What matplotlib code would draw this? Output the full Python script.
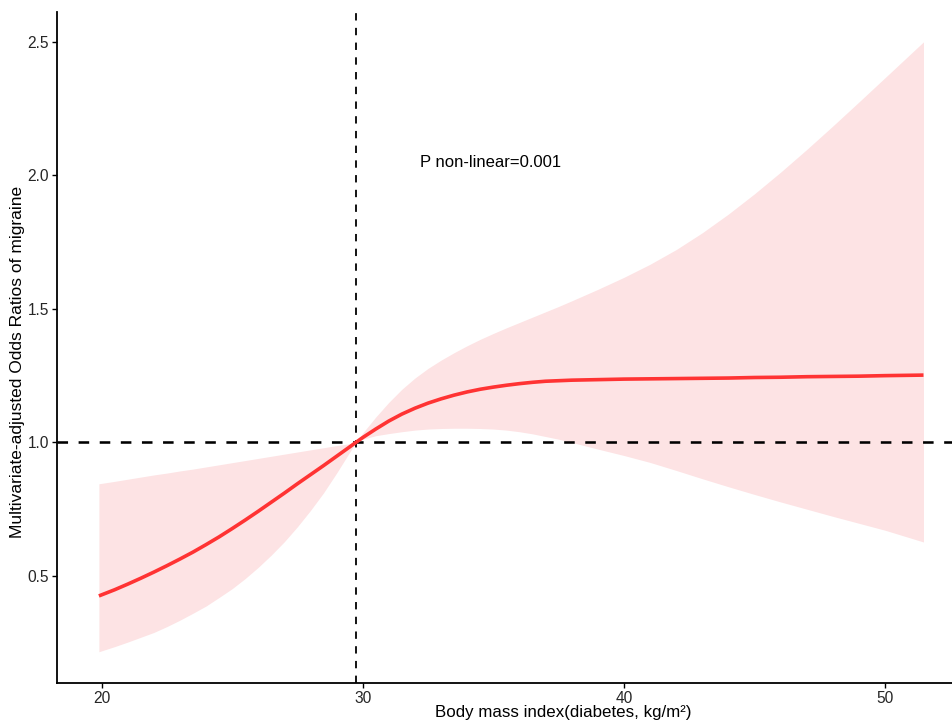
import matplotlib
matplotlib.use("Agg")
import matplotlib.pyplot as plt

plt.rcParams['font.family'] = ['Liberation Sans', 'DejaVu Sans']
plt.rcParams['lines.scale_dashes'] = False

# Data
bmi = [19.9, 20.5, 21, 21.5, 22, 22.5, 23, 23.5, 24, 24.5,
       25, 25.5, 26, 26.5, 27, 27.5, 28, 28.5, 29, 29.5,
       29.74, 30, 30.5, 31, 31.5, 32, 32.5, 33, 33.5, 34,
       34.5, 35, 35.5, 36, 36.5, 37, 37.5, 38, 39, 40,
       41, 42, 43, 44, 45, 46, 47, 48, 49, 50, 51.47]
or_fit = [0.425, 0.448, 0.469, 0.491, 0.514, 0.538, 0.563, 0.589, 0.617, 0.646,
          0.677, 0.709, 0.742, 0.776, 0.810, 0.845, 0.879, 0.913, 0.948, 0.983,
          1.000, 1.018, 1.050, 1.080, 1.106, 1.128, 1.147, 1.163, 1.177, 1.189,
          1.199, 1.207, 1.214, 1.220, 1.225, 1.229, 1.231, 1.233, 1.235, 1.237,
          1.238, 1.239, 1.240, 1.241, 1.243, 1.244, 1.246, 1.247, 1.248, 1.250, 1.252]
ci_low = [0.216, 0.235, 0.252, 0.270, 0.288, 0.310, 0.334, 0.360, 0.387, 0.419,
          0.452, 0.490, 0.532, 0.578, 0.628, 0.684, 0.745, 0.811, 0.885, 0.963,
          1.000, 1.012, 1.025, 1.033, 1.040, 1.046, 1.050, 1.052, 1.053, 1.053,
          1.052, 1.050, 1.046, 1.040, 1.032, 1.022, 1.012, 1.000, 0.975, 0.951,
          0.925, 0.895, 0.864, 0.834, 0.805, 0.777, 0.750, 0.723, 0.697, 0.671, 0.627]
ci_up = [0.845, 0.854, 0.862, 0.870, 0.878, 0.885, 0.893, 0.900, 0.908, 0.916,
         0.924, 0.932, 0.940, 0.948, 0.956, 0.964, 0.972, 0.980, 0.988, 0.995,
         1.000, 1.035, 1.095, 1.150, 1.199, 1.241, 1.277, 1.308, 1.336, 1.362,
         1.386, 1.408, 1.429, 1.449, 1.469, 1.489, 1.509, 1.530, 1.573, 1.618,
         1.667, 1.722, 1.785, 1.855, 1.931, 2.012, 2.097, 2.185, 2.275, 2.366, 2.500]
ref_bmi = 29.74
ref_or = 1.0
x_ticks = [20, 30, 40, 50]
y_ticks = [0.5, 1.0, 1.5, 2.0, 2.5]
annotation = "P non-linear=0.001"
xlabel = "Body mass index(diabetes, kg/m\u00b2)"
ylabel = "Multivariate-adjusted Odds Ratios of migraine"

W, H = 953, 724
L, B, T = 57, 682.7, 11.7
fig = plt.figure(figsize=(W / 100, H / 100), dpi=100)
ax = fig.add_axes([L / W, (H - B) / H, (W - L) / W, (B - T) / H])

ax.fill_between(bmi, ci_low, ci_up, color='#FDE3E4', linewidth=0, zorder=1)
ax.plot(bmi, or_fit, color='#FF3333', linewidth=2.6, solid_capstyle='butt',
        solid_joinstyle='round', zorder=3)

ax.axhline(ref_or, color='black', linewidth=1.85, dashes=(7.6, 7.6), zorder=2)
ax.axvline(ref_bmi, color='black', linewidth=1.3, dashes=(5.3, 5.3), zorder=2)

ax.text(34.9, 2.05, annotation, fontsize=12, ha='center', va='center', color='black')

ax.set_xlim(18.296, 52.60)
ax.set_ylim(0.100, 2.613)
ax.set_xticks(x_ticks)
ax.set_xticklabels([str(t) for t in x_ticks])
ax.set_yticks(y_ticks)
ax.set_yticklabels([f"{t:.1f}" for t in y_ticks])

for s in ['top', 'right']:
    ax.spines[s].set_visible(False)
for s in ['left', 'bottom']:
    ax.spines[s].set_linewidth(1.3)
    ax.spines[s].set_color('black')
ax.tick_params(axis='both', direction='out', length=3.5, width=1.0, color='black',
               labelsize=11.2, labelcolor='#262626', pad=2.2)

ax.set_xlabel(xlabel, fontsize=12.2, color='black')
ax.set_ylabel(ylabel, fontsize=12.5, color='black')
ax.xaxis.set_label_coords((563 - L) / (W - L), -(712 - B) / (B - T), transform=ax.transAxes)
ax.yaxis.set_label_coords(-(57 - 17.5) / (W - L), (B - 362) / (B - T), transform=ax.transAxes)
ax.xaxis.label.set_va('center')
ax.yaxis.label.set_va('center')

fig.savefig("out.png", dpi=100)
